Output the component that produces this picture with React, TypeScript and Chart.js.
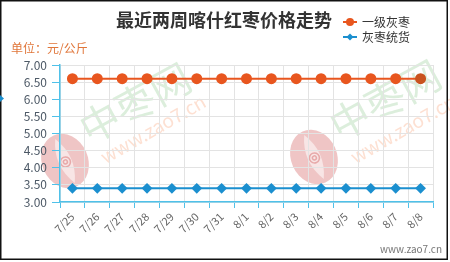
import React, { useEffect, useRef } from "react";
import { Chart, registerables } from "chart.js";

Chart.register(...registerables);

const categories = ["7/25", "7/26", "7/27", "7/28", "7/29", "7/30", "7/31", "8/1", "8/2", "8/3", "8/4", "8/5", "8/6", "8/7", "8/8"];
const gradeOneGreyJujube = [6.6, 6.6, 6.6, 6.6, 6.6, 6.6, 6.6, 6.6, 6.6, 6.6, 6.6, 6.6, 6.6, 6.6, 6.6];
const greyJujubeBulk = [3.4, 3.4, 3.4, 3.4, 3.4, 3.4, 3.4, 3.4, 3.4, 3.4, 3.4, 3.4, 3.4, 3.4, 3.4];
const yTicks = { min: 3, max: 7, step: 0.5 };
const seriesNames = ["一级灰枣", "灰枣统货"];
const titleText = "最近两周喀什红枣价格走势";
const unitText = "单位：元/公斤";
const siteText = "www.zao7.cn";
const watermarkText = "中枣网";

const FONT = '"Noto Sans CJK SC", "Noto Sans", sans-serif';
const ORANGE = "#e8561f";
const BLUE = "#1b8fcf";
const AXIS = "#4fc1e9";
const GRID = "#e3e3e3";

function drawLogo(ctx: CanvasRenderingContext2D, cx: number, cy: number) {
  ctx.save();
  ctx.translate(cx, cy);
  ctx.rotate(-0.42);
  ctx.fillStyle = "rgba(215,110,110,0.4)";
  ctx.beginPath();
  ctx.ellipse(0, 0, 23, 28, 0, 0, Math.PI * 2);
  ctx.fill();
  ctx.fillStyle = "rgba(255,255,255,0.55)";
  ctx.beginPath();
  ctx.moveTo(0, -24);
  ctx.quadraticCurveTo(13, 0, 0, 24);
  ctx.quadraticCurveTo(-13, 0, 0, -24);
  ctx.fill();
  ctx.strokeStyle = "rgba(215,110,110,0.5)";
  ctx.lineWidth = 1.5;
  ctx.beginPath();
  ctx.arc(0, 1, 5, 0, Math.PI * 2);
  ctx.stroke();
  ctx.beginPath();
  ctx.arc(0, 1, 2, 0, Math.PI * 2);
  ctx.stroke();
  ctx.restore();
}

const decorPlugin = {
  id: "decor",
  beforeDraw(chart: any) {
    const ctx = chart.ctx as CanvasRenderingContext2D;
    ctx.save();
    ctx.fillStyle = "#ffffff";
    ctx.fillRect(0, 0, chart.width, chart.height);

    const marks = [
      { wx: 135, wy: 103, ux: 153, uy: 129, lx: 65, ly: 161 },
      { wx: 385, wy: 100, ux: 403, uy: 129, lx: 314, ly: 157 },
    ];
    for (const m of marks) {
      drawLogo(ctx, m.lx, m.ly);
      ctx.save();
      ctx.translate(m.wx, m.wy);
      ctx.rotate(-0.5);
      ctx.fillStyle = "rgba(120,190,120,0.26)";
      ctx.font = `40px ${FONT}`;
      ctx.textAlign = "center";
      ctx.textBaseline = "middle";
      ctx.fillText(watermarkText, 0, 0);
      ctx.restore();
      ctx.save();
      ctx.translate(m.ux, m.uy);
      ctx.rotate(-0.52);
      ctx.fillStyle = "rgba(250,160,115,0.32)";
      ctx.font = `19px ${FONT}`;
      ctx.textAlign = "center";
      ctx.textBaseline = "middle";
      ctx.fillText(siteText, 0, 0);
      ctx.restore();
    }
    ctx.restore();
  },
  afterDraw(chart: any) {
    const ctx = chart.ctx as CanvasRenderingContext2D;
    ctx.save();
    ctx.fillStyle = "#333333";
    ctx.font = `bold 18px ${FONT}`;
    ctx.textAlign = "center";
    ctx.textBaseline = "middle";
    ctx.fillText(titleText, 224, 20);

    const items = [
      { y: 22, color: ORANGE, style: "circle" },
      { y: 37, color: BLUE, style: "diamond" },
    ];
    items.forEach((it, i) => {
      ctx.strokeStyle = it.color;
      ctx.fillStyle = it.color;
      ctx.lineWidth = 2;
      ctx.beginPath();
      ctx.moveTo(343, it.y);
      ctx.lineTo(357, it.y);
      ctx.stroke();
      ctx.beginPath();
      if (it.style === "circle") {
        ctx.arc(350, it.y, 4, 0, Math.PI * 2);
      } else {
        ctx.moveTo(350, it.y - 3.5);
        ctx.lineTo(353.5, it.y);
        ctx.lineTo(350, it.y + 3.5);
        ctx.lineTo(346.5, it.y);
        ctx.closePath();
      }
      ctx.fill();
      ctx.fillStyle = "#333333";
      ctx.font = `12px ${FONT}`;
      ctx.textAlign = "left";
      ctx.fillText(seriesNames[i], 362, it.y);
    });

    ctx.fillStyle = "#e0763a";
    ctx.font = `12px ${FONT}`;
    ctx.textAlign = "left";
    ctx.fillText(unitText, 11, 48);

    ctx.fillStyle = "#777777";
    ctx.font = `10px ${FONT}`;
    ctx.textAlign = "right";
    ctx.fillText(siteText, 442, 249);

    ctx.strokeStyle = "#111111";
    ctx.lineWidth = 1.5;
    ctx.strokeRect(0.75, 0.75, 446.5, 258.5);

    ctx.fillStyle = "#1b8fcf";
    ctx.beginPath();
    ctx.moveTo(0, 95);
    ctx.lineTo(4, 98.5);
    ctx.lineTo(0, 102);
    ctx.closePath();
    ctx.fill();
    ctx.restore();
  },
};

export default function App() {
  const canvasRef = useRef<HTMLCanvasElement | null>(null);

  useEffect(() => {
    const canvas = canvasRef.current;
    if (!canvas) return;
    const chart = new Chart(canvas, {
      type: "line",
      data: {
        labels: categories,
        datasets: [
          {
            label: seriesNames[0],
            data: gradeOneGreyJujube,
            borderColor: ORANGE,
            backgroundColor: ORANGE,
            pointBackgroundColor: (c: any) => (c.dataIndex === categories.length - 1 ? "#c9531f" : ORANGE),
            pointBorderColor: (c: any) => (c.dataIndex === categories.length - 1 ? "#c9531f" : ORANGE),
            borderWidth: 2,
            pointRadius: 4.5,
            pointStyle: "circle",
          },
          {
            label: seriesNames[1],
            data: greyJujubeBulk,
            borderColor: BLUE,
            backgroundColor: BLUE,
            borderWidth: 2,
            pointRadius: 4,
            pointStyle: "rectRot",
          },
        ],
      },
      options: {
        responsive: false,
        animation: false,
        devicePixelRatio: 1,
        layout: { padding: { top: 65, right: 17, left: 0, bottom: 0 } },
        plugins: {
          legend: { display: false },
          title: { display: false },
          tooltip: { enabled: false },
        },
        scales: {
          x: {
            type: "category",
            offset: true,
            grid: { color: GRID, tickColor: AXIS, tickLength: 6, offset: true, lineWidth: 1 },
            border: { color: AXIS, width: 1.5 },
            ticks: {
              autoSkip: false,
              minRotation: 45,
              maxRotation: 45,
              color: "#666666",
              font: { family: FONT, size: 11 },
              padding: 2,
            },
            afterFit: (s: any) => {
              s.height = 60;
            },
          },
          y: {
            min: yTicks.min,
            max: yTicks.max,
            grid: { color: GRID, tickColor: AXIS, tickLength: 8, lineWidth: 1 },
            border: { color: AXIS, width: 1.5 },
            ticks: {
              autoSkip: false,
              stepSize: yTicks.step,
              callback: (v: any) => Number(v).toFixed(2),
              color: "#4d5966",
              font: { family: FONT, size: 12 },
              padding: 5,
            },
            afterFit: (s: any) => {
              s.width = 60;
            },
          },
        },
      },
      plugins: [decorPlugin],
    } as any);
    return () => chart.destroy();
  }, []);

  return (
    <div style={{ position: "fixed", left: 0, top: 0, width: 450, height: 262, background: "#fff" }}>
      <canvas ref={canvasRef} width={450} height={262} style={{ display: "block", width: 450, height: 262 }} />
    </div>
  );
}
